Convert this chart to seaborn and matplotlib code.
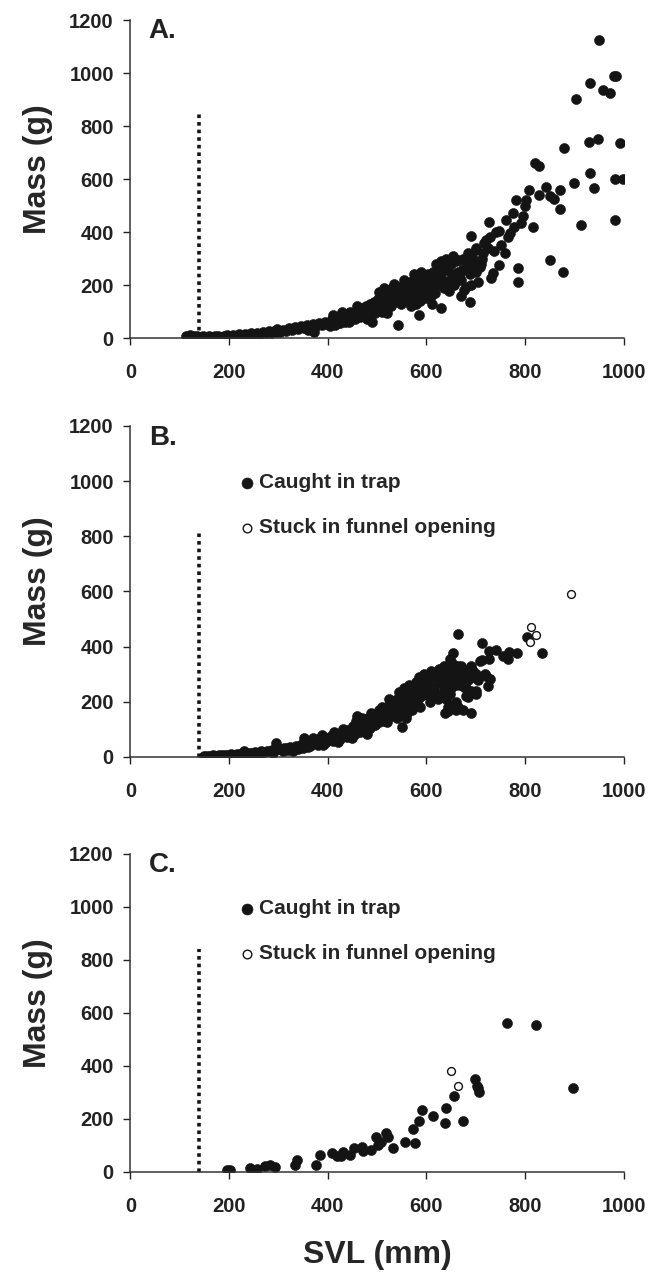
import matplotlib
matplotlib.use("Agg")
import matplotlib.pyplot as plt
import seaborn as sns

# -----------------------------
# DATA
# -----------------------------
# panel A - all snakes
a_svl = [
    112, 120, 128, 135, 142, 148, 155, 160, 166, 172, 178, 184, 190, 196,
    202, 208, 214, 220, 226, 232, 238, 244, 250, 256, 262, 268, 274, 280, 286, 292, 298, 296,
    304, 310, 316, 322, 328, 334, 340, 346, 352, 358, 364, 370, 376, 382, 388, 394, 398, 372, 360,
    404, 408, 412, 418, 424, 430, 436, 442, 446, 450, 454, 458, 462, 466, 470, 474, 478, 482, 486,
    490, 494, 498, 480, 490, 444,
    405, 415, 425, 435, 445, 455, 465, 475, 485, 495, 410, 430, 460, 475,
    502, 504, 508, 512, 516, 520, 524, 528, 530, 534, 538, 542, 546, 550, 554, 558, 560, 562, 566,
    570, 572, 576, 580, 582, 586, 590, 592, 596, 598, 542, 586, 600, 530, 510, 520, 548, 568, 588,
    505, 515, 525, 535, 545, 555, 565, 575, 585, 595, 505, 515, 535, 555, 575, 590, 528, 560, 580,
    600, 610,
    604, 606, 610, 614, 618, 620, 624, 626, 630, 630, 634, 638, 642, 646, 650, 652, 656, 660, 664,
    664, 668, 670, 674, 676, 680, 681, 684, 688, 688, 691, 692, 696, 700, 701, 704, 708,
    605, 615, 625, 635, 645, 655, 665, 675, 685, 695, 640, 655, 620, 630, 612, 670, 690, 700,
    710, 715, 725, 730,
    712, 718, 722, 728, 732, 735, 738, 742, 748, 748, 752, 759, 762, 766, 769, 775, 778, 782, 786,
    786, 792, 796, 800,
    802, 809, 816, 821, 829, 829, 842, 850, 850, 860, 871, 871, 877, 880, 900, 904, 914, 930, 933,
    933, 941, 948, 950, 959, 972, 980, 985, 993, 982, 998, 983,
]
a_mass = [
    8, 10, 6, 9, 4, 7, 5, 8, 3, 6, 9, 5, 7, 10,
    6, 12, 9, 14, 8, 16, 11, 18, 13, 20, 15, 22, 17, 26, 19, 28, 34, 22,
    24, 30, 26, 36, 30, 40, 33, 44, 37, 48, 40, 52, 44, 56, 48, 62, 52, 24, 30,
    58, 70, 62, 76, 66, 84, 72, 92, 100, 80, 96, 86, 106, 92, 114, 98, 120, 104, 128,
    110, 136, 118, 70, 60, 60,
    45, 50, 55, 62, 75, 70, 80, 85, 90, 95, 85, 100, 120, 110,
    146, 124, 156, 132, 164, 140, 172, 186, 150, 176, 160, 190, 168, 196, 176, 150, 180, 204, 186,
    160, 214, 194, 170, 222, 200, 180, 232, 206, 160, 49, 87, 219, 187, 100, 95, 130, 120, 140,
    105, 115, 125, 135, 145, 155, 165, 150, 160, 175, 175, 190, 205, 220, 240, 250, 120, 140, 130,
    150, 160,
    240, 190, 214, 250, 170, 230, 262, 200, 112, 244, 270, 216, 256, 178, 280, 236, 200, 290, 294,
    250, 244, 220, 300, 180, 262, 194, 320, 137, 240, 385, 300, 270, 340, 332, 210, 269,
    210, 200, 225, 190, 210, 240, 220, 260, 280, 300, 300, 310, 280, 290, 130, 160, 200, 250,
    280, 320, 340, 380,
    300, 360, 370, 436, 225, 244, 330, 400, 275, 405, 350, 320, 445, 380, 395, 470, 420, 521, 263,
    210, 433, 460, 500,
    521, 558, 420, 659, 649, 540, 571, 534, 294, 525, 558, 486, 250, 718, 584, 901, 426, 741, 963,
    624, 565, 751, 1125, 936, 926, 989, 989, 737, 600, 600, 445,
]

# panel B - caught in trap / stuck in funnel opening
b_svl = [
    150, 156, 162, 168, 174, 180, 186, 192, 198,
    204, 210, 216, 222, 228, 234, 240, 246, 252, 258, 264, 270, 276, 282, 288, 294, 296, 300,
    230, 260, 290,
    306, 312, 318, 324, 330, 336, 342, 348, 352, 354, 360, 366, 372, 378, 384, 388, 390, 396,
    330, 360, 390, 370,
    310, 320, 340, 350, 365, 380, 395, 385, 400,
    402, 406, 412, 418, 424, 430, 436, 442, 448, 454, 458, 460, 466, 472, 478, 484, 488, 490,
    496, 500, 420, 450, 480, 470,
    410, 425, 440, 455, 465, 475, 485, 495, 412, 432, 452, 468, 482, 497, 505, 460,
    504, 508, 512, 516, 520, 524, 528, 532, 536, 540, 544, 548, 550, 552, 556, 558, 560, 564,
    568, 572, 576, 580, 584, 588, 590, 594, 596, 600, 520, 540, 570, 530, 560,
    505, 515, 525, 535, 545, 555, 565, 575, 585, 595, 510, 530, 550, 570, 590, 600, 580, 565,
    545, 525, 555, 595, 585,
    604, 608, 612, 616, 620, 624, 628, 632, 636, 637, 640, 644, 647, 648, 652, 654, 656, 660,
    664, 664, 668, 670, 672, 677, 680, 685, 688, 691, 694, 700, 690, 675,
    605, 615, 625, 635, 645, 655, 665, 675, 685, 695, 610, 620, 630, 640, 650, 660, 670, 680,
    690, 700, 640, 655, 665, 610, 625, 635, 648, 658, 668, 700, 705, 712, 720, 660, 645, 680, 690,
    708, 714, 721, 726, 728, 730, 741, 755, 765, 768, 784, 805, 834, 728,
]
b_mass = [
    3, 5, 4, 6, 5, 7, 6, 8, 7,
    9, 8, 11, 10, 13, 12, 15, 14, 17, 16, 20, 18, 23, 21, 26, 24, 50, 30,
    20, 10, 15,
    28, 33, 31, 37, 34, 41, 38, 46, 70, 42, 51, 47, 56, 52, 62, 80, 57, 68,
    22, 35, 45, 70,
    20, 25, 30, 32, 40, 45, 52, 70, 60,
    63, 75, 70, 82, 77, 90, 84, 98, 92, 106, 130, 100, 116, 108, 126, 118, 160, 137,
    128, 150, 55, 70, 85, 140,
    58, 65, 72, 82, 90, 95, 105, 115, 90, 100, 112, 125, 140, 150, 128, 150,
    140, 162, 150, 176, 160, 188, 170, 198, 180, 210, 190, 222, 110, 200, 234, 140, 212, 246,
    224, 258, 236, 270, 248, 180, 262, 225, 280, 250, 125, 140, 170, 180, 160,
    170, 130, 145, 155, 165, 175, 190, 200, 215, 230, 180, 200, 215, 240, 265, 230, 225, 260,
    235, 210, 250, 300, 290,
    265, 200, 290, 240, 300, 210, 270, 310, 250, 161, 320, 180, 294, 230, 340, 378, 280, 200,
    447, 330, 260, 331, 300, 252, 220, 216, 300, 294, 313, 240, 160, 170,
    240, 255, 270, 285, 300, 315, 300, 290, 280, 290, 220, 230, 220, 260, 250, 260, 280, 250,
    240, 230, 210, 190, 180, 310, 320, 330, 355, 330, 310, 300, 280, 350, 300, 170, 165, 310, 330,
    349, 412, 294, 258, 355, 282, 388, 367, 354, 379, 378, 434, 378, 385,
]
b_stuck_svl = [894, 812, 823, 810]
b_stuck_mass = [592, 470, 444, 417]

# panel C - caught in trap / stuck in funnel opening
c_svl = [
    195, 202, 242, 256, 273, 284, 293, 334, 337, 376, 384, 408, 418, 432, 428, 445, 453, 469,
    472, 487, 499, 503, 509, 519, 523, 533, 557, 577, 573, 586, 592, 613, 637, 639, 657, 674,
    698, 703, 705, 706, 763, 823, 897,
]
c_mass = [
    9, 7, 15, 12, 21, 27, 17, 25, 44, 25, 65, 70, 60, 76, 61, 64, 89, 96,
    81, 83, 133, 103, 115, 146, 133, 89, 115, 108, 163, 191, 235, 212, 184, 243, 285, 193,
    352, 325, 316, 301, 562, 553, 317,
]
c_stuck_svl = [651, 664]
c_stuck_mass = [382, 326]

panel_labels = ["A.", "B.", "C."]
cutoff_svl = 140
cutoff_top = [850, 820, 840]

# -----------------------------
# STYLE
# -----------------------------
sns.set_style("ticks")
plt.rcParams["font.family"] = ["Liberation Sans", "DejaVu Sans"]
plt.rcParams["font.weight"] = "bold"
plt.rcParams["axes.labelweight"] = "bold"

dot_color = "#141414"

fig = plt.figure(figsize=(6.65, 12.75), dpi=100)
left, width = 0.1962, 0.7414
ax_a = fig.add_axes([left, 0.7349, width, 0.2494])
ax_b = fig.add_axes([left, 0.4063, width, 0.2596])
ax_c = fig.add_axes([left, 0.0808, width, 0.2494])
axes = [ax_a, ax_b, ax_c]

# -----------------------------
# SCATTERS
# -----------------------------
dot_kw = dict(color=dot_color, s=52, linewidth=0.4, edgecolor=dot_color)
open_kw = dict(facecolor="white", edgecolor=dot_color, s=32, linewidth=1.0)

sns.scatterplot(x=a_svl, y=a_mass, ax=ax_a, **dot_kw)

sns.scatterplot(x=b_svl, y=b_mass, ax=ax_b, label="Caught in trap", **dot_kw)
sns.scatterplot(x=b_stuck_svl, y=b_stuck_mass, ax=ax_b,
                label="Stuck in funnel opening", **open_kw)

sns.scatterplot(x=c_svl, y=c_mass, ax=ax_c, label="Caught in trap", **dot_kw)
sns.scatterplot(x=c_stuck_svl, y=c_stuck_mass, ax=ax_c,
                label="Stuck in funnel opening", **open_kw)

# -----------------------------
# AXES FORMATTING
# -----------------------------
for ax, lab, top in zip(axes, panel_labels, cutoff_top):
    ax.vlines(cutoff_svl, 0, top, colors=dot_color, linewidth=2.6,
              linestyles=(0, (1, 1.1)), zorder=1)
    ax.set_xlim(0, 1000)
    ax.set_ylim(0, 1200)
    ax.set_xticks(range(0, 1001, 200))
    ax.set_yticks(range(0, 1201, 200))
    ax.tick_params(axis="both", direction="out", length=5, width=1.0,
                   labelsize=14.5, colors="#222222")
    ax.tick_params(axis="x", pad=13)
    ax.tick_params(axis="y", pad=7)
    for t in ax.get_xticklabels() + ax.get_yticklabels():
        t.set_fontweight("bold")
    for side in ["top", "right"]:
        ax.spines[side].set_visible(False)
    for side in ["left", "bottom"]:
        ax.spines[side].set_linewidth(1.1)
        ax.spines[side].set_color("#333333")
    ax.set_ylabel("Mass (g)", fontsize=23, fontweight="bold", labelpad=12, y=0.53)
    ax.text(0.037, 0.965, lab, transform=ax.transAxes, fontsize=20,
            fontweight="bold", ha="left", va="center", color="#222222")
    ax.set_facecolor("white")

for ax in [ax_b, ax_c]:
    ax.legend(loc="upper left", bbox_to_anchor=(0.225, 0.858), frameon=False,
              fontsize=15, handlelength=0.5, handletextpad=0.35,
              labelspacing=1.25, borderaxespad=0, borderpad=0, markerscale=1.1)

ax_c.set_xlabel("SVL (mm)", fontsize=23, fontweight="bold", labelpad=17)

plt.savefig("out.png", dpi=100, facecolor="white")
